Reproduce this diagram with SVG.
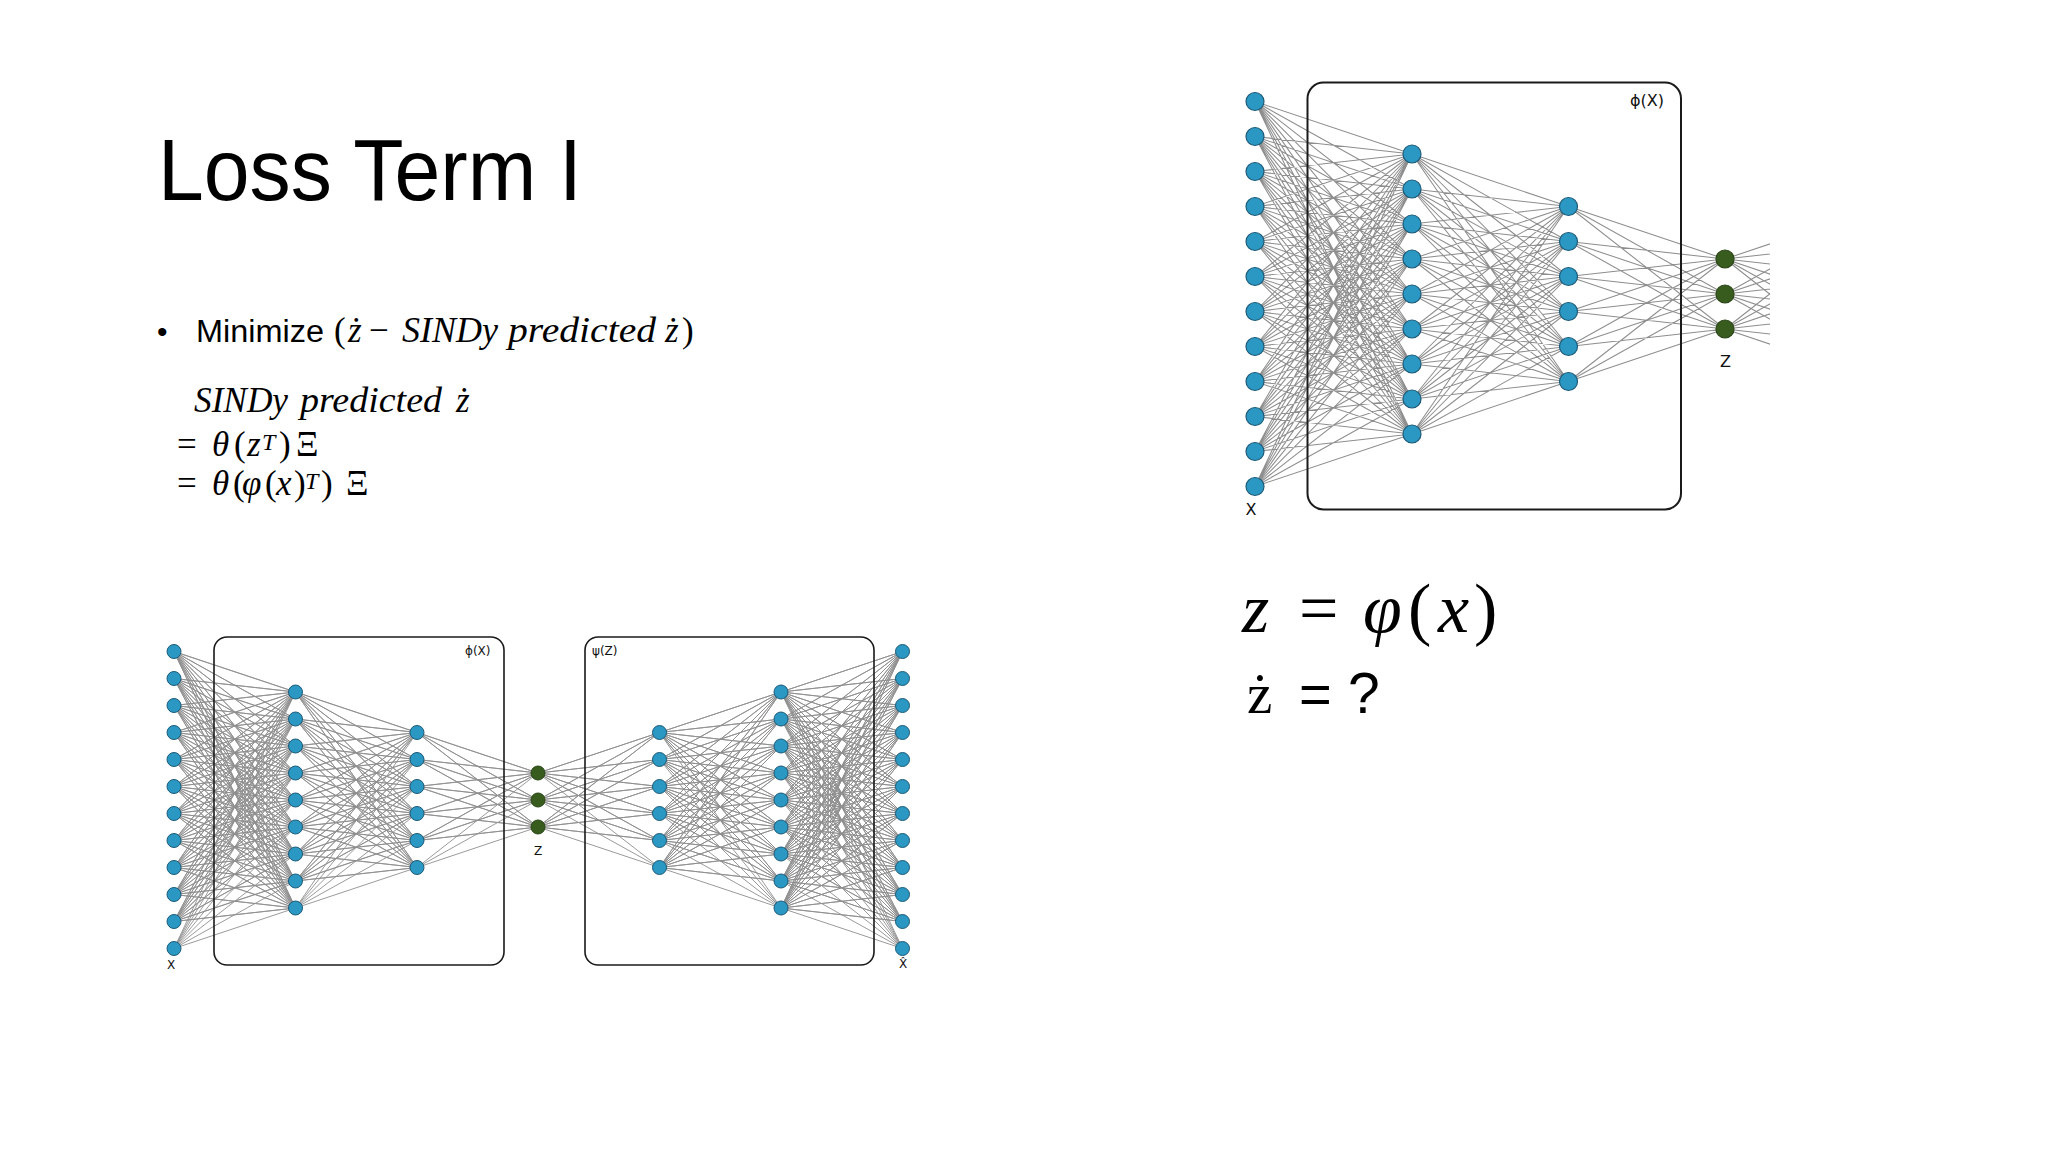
<svg xmlns="http://www.w3.org/2000/svg" width="2048" height="1152" viewBox="0 0 2048 1152">
<style>
.sans{font-family:"Liberation Sans","Noto Sans",sans-serif;fill:#000}
.lbl{font-family:"DejaVu Sans","Liberation Sans",sans-serif;fill:#111}
.m{font-family:"Liberation Serif","DejaVu Serif",serif;fill:#000}
.i{font-style:italic}
.ln{fill:none;stroke:#8e8e8e;stroke-linejoin:round}
.nb{fill:#2a98c2;stroke:#1d5a78}
.ng{fill:#385b1e;stroke:#2a4517}
.box{fill:none;stroke:#1a1a1a}
</style>
<defs>
<clipPath id="clipTR"><rect x="1690" y="150" width="80" height="260"/></clipPath>
</defs>
<rect width="2048" height="1152" fill="#fff"/>

<g id="title"><text class="sans" x="158" y="199.5" font-size="88" textLength="424" lengthAdjust="spacingAndGlyphs">Loss Term I</text></g>

<g id="bullet-text">
<text class="sans" x="157" y="341.5" font-size="30">•</text>
<text class="sans" x="196" y="341.5" font-size="31" textLength="128" lengthAdjust="spacingAndGlyphs">Minimize</text>
<text class="m" y="341.5" font-size="35"><tspan x="334">(</tspan><tspan class="i" x="348">ż</tspan><tspan x="369">−</tspan><tspan class="i" x="402" textLength="96" lengthAdjust="spacingAndGlyphs">SINDy</tspan><tspan class="i" x="508" textLength="148" lengthAdjust="spacingAndGlyphs">predicted</tspan><tspan class="i" x="665">ż</tspan><tspan x="682">)</tspan></text>
<text class="m i" y="412" font-size="35"><tspan x="194" textLength="94" lengthAdjust="spacingAndGlyphs">SINDy</tspan><tspan x="300" textLength="142" lengthAdjust="spacingAndGlyphs">predicted</tspan><tspan x="456">ż</tspan></text>
<text class="m" y="456" font-size="35"><tspan x="177">=</tspan><tspan class="i" x="212">θ</tspan><tspan x="234">(</tspan><tspan class="i" x="247">z</tspan><tspan class="i" x="262" y="450" font-size="24">T</tspan><tspan x="279" y="456">)</tspan><tspan x="296">Ξ</tspan></text>
<text class="m" y="495" font-size="35"><tspan x="177">=</tspan><tspan class="i" x="212">θ</tspan><tspan x="233">(</tspan><tspan class="i" x="242">φ</tspan><tspan x="265">(</tspan><tspan class="i" x="276">x</tspan><tspan x="294">)</tspan><tspan class="i" x="305" y="489" font-size="24">T</tspan><tspan x="321" y="495">)</tspan><tspan x="346">Ξ</tspan></text>
</g>

<g id="right-formula">
<text class="m" y="632" font-size="70"><tspan class="i" x="1242">z</tspan><tspan x="1299">=</tspan><tspan class="i" x="1363">φ</tspan><tspan x="1408">(</tspan><tspan class="i" x="1438">x</tspan><tspan x="1474">)</tspan></text>
<text y="713"><tspan class="m" x="1247" font-size="57">ż</tspan><tspan class="sans" x="1299" font-size="56">=</tspan><tspan class="sans" x="1348" font-size="57">?</tspan></text>
</g>

<g id="connectors">
<path class="ln" stroke-width="1.05" d="M1412 154L1255 101.5 1412 154 1255 136.5 1412 154 1255 171.5 1412 154 1255 206.5 1412 154 1255 241.5 1412 154 1255 276.5 1412 154 1255 311.5 1412 154 1255 346.5 1412 154 1255 381.5 1412 154 1255 416.5 1412 154 1255 451.5 1412 154 1255 486.5
M1412 189L1255 101.5 1412 189 1255 136.5 1412 189 1255 171.5 1412 189 1255 206.5 1412 189 1255 241.5 1412 189 1255 276.5 1412 189 1255 311.5 1412 189 1255 346.5 1412 189 1255 381.5 1412 189 1255 416.5 1412 189 1255 451.5 1412 189 1255 486.5
M1412 224L1255 101.5 1412 224 1255 136.5 1412 224 1255 171.5 1412 224 1255 206.5 1412 224 1255 241.5 1412 224 1255 276.5 1412 224 1255 311.5 1412 224 1255 346.5 1412 224 1255 381.5 1412 224 1255 416.5 1412 224 1255 451.5 1412 224 1255 486.5
M1412 259L1255 101.5 1412 259 1255 136.5 1412 259 1255 171.5 1412 259 1255 206.5 1412 259 1255 241.5 1412 259 1255 276.5 1412 259 1255 311.5 1412 259 1255 346.5 1412 259 1255 381.5 1412 259 1255 416.5 1412 259 1255 451.5 1412 259 1255 486.5
M1412 294L1255 101.5 1412 294 1255 136.5 1412 294 1255 171.5 1412 294 1255 206.5 1412 294 1255 241.5 1412 294 1255 276.5 1412 294 1255 311.5 1412 294 1255 346.5 1412 294 1255 381.5 1412 294 1255 416.5 1412 294 1255 451.5 1412 294 1255 486.5
M1412 329L1255 101.5 1412 329 1255 136.5 1412 329 1255 171.5 1412 329 1255 206.5 1412 329 1255 241.5 1412 329 1255 276.5 1412 329 1255 311.5 1412 329 1255 346.5 1412 329 1255 381.5 1412 329 1255 416.5 1412 329 1255 451.5 1412 329 1255 486.5
M1412 364L1255 101.5 1412 364 1255 136.5 1412 364 1255 171.5 1412 364 1255 206.5 1412 364 1255 241.5 1412 364 1255 276.5 1412 364 1255 311.5 1412 364 1255 346.5 1412 364 1255 381.5 1412 364 1255 416.5 1412 364 1255 451.5 1412 364 1255 486.5
M1412 399L1255 101.5 1412 399 1255 136.5 1412 399 1255 171.5 1412 399 1255 206.5 1412 399 1255 241.5 1412 399 1255 276.5 1412 399 1255 311.5 1412 399 1255 346.5 1412 399 1255 381.5 1412 399 1255 416.5 1412 399 1255 451.5 1412 399 1255 486.5
M1412 434L1255 101.5 1412 434 1255 136.5 1412 434 1255 171.5 1412 434 1255 206.5 1412 434 1255 241.5 1412 434 1255 276.5 1412 434 1255 311.5 1412 434 1255 346.5 1412 434 1255 381.5 1412 434 1255 416.5 1412 434 1255 451.5 1412 434 1255 486.5
M1568.5 206.5L1412 154 1568.5 206.5 1412 189 1568.5 206.5 1412 224 1568.5 206.5 1412 259 1568.5 206.5 1412 294 1568.5 206.5 1412 329 1568.5 206.5 1412 364 1568.5 206.5 1412 399 1568.5 206.5 1412 434
M1568.5 241.5L1412 154 1568.5 241.5 1412 189 1568.5 241.5 1412 224 1568.5 241.5 1412 259 1568.5 241.5 1412 294 1568.5 241.5 1412 329 1568.5 241.5 1412 364 1568.5 241.5 1412 399 1568.5 241.5 1412 434
M1568.5 276.5L1412 154 1568.5 276.5 1412 189 1568.5 276.5 1412 224 1568.5 276.5 1412 259 1568.5 276.5 1412 294 1568.5 276.5 1412 329 1568.5 276.5 1412 364 1568.5 276.5 1412 399 1568.5 276.5 1412 434
M1568.5 311.5L1412 154 1568.5 311.5 1412 189 1568.5 311.5 1412 224 1568.5 311.5 1412 259 1568.5 311.5 1412 294 1568.5 311.5 1412 329 1568.5 311.5 1412 364 1568.5 311.5 1412 399 1568.5 311.5 1412 434
M1568.5 346.5L1412 154 1568.5 346.5 1412 189 1568.5 346.5 1412 224 1568.5 346.5 1412 259 1568.5 346.5 1412 294 1568.5 346.5 1412 329 1568.5 346.5 1412 364 1568.5 346.5 1412 399 1568.5 346.5 1412 434
M1568.5 381.5L1412 154 1568.5 381.5 1412 189 1568.5 381.5 1412 224 1568.5 381.5 1412 259 1568.5 381.5 1412 294 1568.5 381.5 1412 329 1568.5 381.5 1412 364 1568.5 381.5 1412 399 1568.5 381.5 1412 434
M1725 259L1568.5 206.5 1725 259 1568.5 241.5 1725 259 1568.5 276.5 1725 259 1568.5 311.5 1725 259 1568.5 346.5 1725 259 1568.5 381.5
M1725 294L1568.5 206.5 1725 294 1568.5 241.5 1725 294 1568.5 276.5 1725 294 1568.5 311.5 1725 294 1568.5 346.5 1725 294 1568.5 381.5
M1725 329L1568.5 206.5 1725 329 1568.5 241.5 1725 329 1568.5 276.5 1725 329 1568.5 311.5 1725 329 1568.5 346.5 1725 329 1568.5 381.5"/>
<path class="ln" stroke-width="1.05" clip-path="url(#clipTR)" d="M1725 259L1881.5 206.5 1725 259 1881.5 241.5 1725 259 1881.5 276.5 1725 259 1881.5 311.5 1725 259 1881.5 346.5 1725 259 1881.5 381.5
M1725 294L1881.5 206.5 1725 294 1881.5 241.5 1725 294 1881.5 276.5 1725 294 1881.5 311.5 1725 294 1881.5 346.5 1725 294 1881.5 381.5
M1725 329L1881.5 206.5 1725 329 1881.5 241.5 1725 329 1881.5 276.5 1725 329 1881.5 311.5 1725 329 1881.5 346.5 1725 329 1881.5 381.5"/>
<path class="ln" stroke-width="0.9" d="M295.5 692L174 651.5 295.5 692 174 678.5 295.5 692 174 705.5 295.5 692 174 732.5 295.5 692 174 759.5 295.5 692 174 786.5 295.5 692 174 813.5 295.5 692 174 840.5 295.5 692 174 867.5 295.5 692 174 894.5 295.5 692 174 921.5 295.5 692 174 948.5
M295.5 719L174 651.5 295.5 719 174 678.5 295.5 719 174 705.5 295.5 719 174 732.5 295.5 719 174 759.5 295.5 719 174 786.5 295.5 719 174 813.5 295.5 719 174 840.5 295.5 719 174 867.5 295.5 719 174 894.5 295.5 719 174 921.5 295.5 719 174 948.5
M295.5 746L174 651.5 295.5 746 174 678.5 295.5 746 174 705.5 295.5 746 174 732.5 295.5 746 174 759.5 295.5 746 174 786.5 295.5 746 174 813.5 295.5 746 174 840.5 295.5 746 174 867.5 295.5 746 174 894.5 295.5 746 174 921.5 295.5 746 174 948.5
M295.5 773L174 651.5 295.5 773 174 678.5 295.5 773 174 705.5 295.5 773 174 732.5 295.5 773 174 759.5 295.5 773 174 786.5 295.5 773 174 813.5 295.5 773 174 840.5 295.5 773 174 867.5 295.5 773 174 894.5 295.5 773 174 921.5 295.5 773 174 948.5
M295.5 800L174 651.5 295.5 800 174 678.5 295.5 800 174 705.5 295.5 800 174 732.5 295.5 800 174 759.5 295.5 800 174 786.5 295.5 800 174 813.5 295.5 800 174 840.5 295.5 800 174 867.5 295.5 800 174 894.5 295.5 800 174 921.5 295.5 800 174 948.5
M295.5 827L174 651.5 295.5 827 174 678.5 295.5 827 174 705.5 295.5 827 174 732.5 295.5 827 174 759.5 295.5 827 174 786.5 295.5 827 174 813.5 295.5 827 174 840.5 295.5 827 174 867.5 295.5 827 174 894.5 295.5 827 174 921.5 295.5 827 174 948.5
M295.5 854L174 651.5 295.5 854 174 678.5 295.5 854 174 705.5 295.5 854 174 732.5 295.5 854 174 759.5 295.5 854 174 786.5 295.5 854 174 813.5 295.5 854 174 840.5 295.5 854 174 867.5 295.5 854 174 894.5 295.5 854 174 921.5 295.5 854 174 948.5
M295.5 881L174 651.5 295.5 881 174 678.5 295.5 881 174 705.5 295.5 881 174 732.5 295.5 881 174 759.5 295.5 881 174 786.5 295.5 881 174 813.5 295.5 881 174 840.5 295.5 881 174 867.5 295.5 881 174 894.5 295.5 881 174 921.5 295.5 881 174 948.5
M295.5 908L174 651.5 295.5 908 174 678.5 295.5 908 174 705.5 295.5 908 174 732.5 295.5 908 174 759.5 295.5 908 174 786.5 295.5 908 174 813.5 295.5 908 174 840.5 295.5 908 174 867.5 295.5 908 174 894.5 295.5 908 174 921.5 295.5 908 174 948.5
M417 732.5L295.5 692 417 732.5 295.5 719 417 732.5 295.5 746 417 732.5 295.5 773 417 732.5 295.5 800 417 732.5 295.5 827 417 732.5 295.5 854 417 732.5 295.5 881 417 732.5 295.5 908
M417 759.5L295.5 692 417 759.5 295.5 719 417 759.5 295.5 746 417 759.5 295.5 773 417 759.5 295.5 800 417 759.5 295.5 827 417 759.5 295.5 854 417 759.5 295.5 881 417 759.5 295.5 908
M417 786.5L295.5 692 417 786.5 295.5 719 417 786.5 295.5 746 417 786.5 295.5 773 417 786.5 295.5 800 417 786.5 295.5 827 417 786.5 295.5 854 417 786.5 295.5 881 417 786.5 295.5 908
M417 813.5L295.5 692 417 813.5 295.5 719 417 813.5 295.5 746 417 813.5 295.5 773 417 813.5 295.5 800 417 813.5 295.5 827 417 813.5 295.5 854 417 813.5 295.5 881 417 813.5 295.5 908
M417 840.5L295.5 692 417 840.5 295.5 719 417 840.5 295.5 746 417 840.5 295.5 773 417 840.5 295.5 800 417 840.5 295.5 827 417 840.5 295.5 854 417 840.5 295.5 881 417 840.5 295.5 908
M417 867.5L295.5 692 417 867.5 295.5 719 417 867.5 295.5 746 417 867.5 295.5 773 417 867.5 295.5 800 417 867.5 295.5 827 417 867.5 295.5 854 417 867.5 295.5 881 417 867.5 295.5 908
M538 773L417 732.5 538 773 417 759.5 538 773 417 786.5 538 773 417 813.5 538 773 417 840.5 538 773 417 867.5
M538 800L417 732.5 538 800 417 759.5 538 800 417 786.5 538 800 417 813.5 538 800 417 840.5 538 800 417 867.5
M538 827L417 732.5 538 827 417 759.5 538 827 417 786.5 538 827 417 813.5 538 827 417 840.5 538 827 417 867.5
M538 773L659.5 732.5 538 773 659.5 759.5 538 773 659.5 786.5 538 773 659.5 813.5 538 773 659.5 840.5 538 773 659.5 867.5
M538 800L659.5 732.5 538 800 659.5 759.5 538 800 659.5 786.5 538 800 659.5 813.5 538 800 659.5 840.5 538 800 659.5 867.5
M538 827L659.5 732.5 538 827 659.5 759.5 538 827 659.5 786.5 538 827 659.5 813.5 538 827 659.5 840.5 538 827 659.5 867.5
M659.5 732.5L781 692 659.5 732.5 781 719 659.5 732.5 781 746 659.5 732.5 781 773 659.5 732.5 781 800 659.5 732.5 781 827 659.5 732.5 781 854 659.5 732.5 781 881 659.5 732.5 781 908
M659.5 759.5L781 692 659.5 759.5 781 719 659.5 759.5 781 746 659.5 759.5 781 773 659.5 759.5 781 800 659.5 759.5 781 827 659.5 759.5 781 854 659.5 759.5 781 881 659.5 759.5 781 908
M659.5 786.5L781 692 659.5 786.5 781 719 659.5 786.5 781 746 659.5 786.5 781 773 659.5 786.5 781 800 659.5 786.5 781 827 659.5 786.5 781 854 659.5 786.5 781 881 659.5 786.5 781 908
M659.5 813.5L781 692 659.5 813.5 781 719 659.5 813.5 781 746 659.5 813.5 781 773 659.5 813.5 781 800 659.5 813.5 781 827 659.5 813.5 781 854 659.5 813.5 781 881 659.5 813.5 781 908
M659.5 840.5L781 692 659.5 840.5 781 719 659.5 840.5 781 746 659.5 840.5 781 773 659.5 840.5 781 800 659.5 840.5 781 827 659.5 840.5 781 854 659.5 840.5 781 881 659.5 840.5 781 908
M659.5 867.5L781 692 659.5 867.5 781 719 659.5 867.5 781 746 659.5 867.5 781 773 659.5 867.5 781 800 659.5 867.5 781 827 659.5 867.5 781 854 659.5 867.5 781 881 659.5 867.5 781 908
M781 692L902.5 651.5 781 692 902.5 678.5 781 692 902.5 705.5 781 692 902.5 732.5 781 692 902.5 759.5 781 692 902.5 786.5 781 692 902.5 813.5 781 692 902.5 840.5 781 692 902.5 867.5 781 692 902.5 894.5 781 692 902.5 921.5 781 692 902.5 948.5
M781 719L902.5 651.5 781 719 902.5 678.5 781 719 902.5 705.5 781 719 902.5 732.5 781 719 902.5 759.5 781 719 902.5 786.5 781 719 902.5 813.5 781 719 902.5 840.5 781 719 902.5 867.5 781 719 902.5 894.5 781 719 902.5 921.5 781 719 902.5 948.5
M781 746L902.5 651.5 781 746 902.5 678.5 781 746 902.5 705.5 781 746 902.5 732.5 781 746 902.5 759.5 781 746 902.5 786.5 781 746 902.5 813.5 781 746 902.5 840.5 781 746 902.5 867.5 781 746 902.5 894.5 781 746 902.5 921.5 781 746 902.5 948.5
M781 773L902.5 651.5 781 773 902.5 678.5 781 773 902.5 705.5 781 773 902.5 732.5 781 773 902.5 759.5 781 773 902.5 786.5 781 773 902.5 813.5 781 773 902.5 840.5 781 773 902.5 867.5 781 773 902.5 894.5 781 773 902.5 921.5 781 773 902.5 948.5
M781 800L902.5 651.5 781 800 902.5 678.5 781 800 902.5 705.5 781 800 902.5 732.5 781 800 902.5 759.5 781 800 902.5 786.5 781 800 902.5 813.5 781 800 902.5 840.5 781 800 902.5 867.5 781 800 902.5 894.5 781 800 902.5 921.5 781 800 902.5 948.5
M781 827L902.5 651.5 781 827 902.5 678.5 781 827 902.5 705.5 781 827 902.5 732.5 781 827 902.5 759.5 781 827 902.5 786.5 781 827 902.5 813.5 781 827 902.5 840.5 781 827 902.5 867.5 781 827 902.5 894.5 781 827 902.5 921.5 781 827 902.5 948.5
M781 854L902.5 651.5 781 854 902.5 678.5 781 854 902.5 705.5 781 854 902.5 732.5 781 854 902.5 759.5 781 854 902.5 786.5 781 854 902.5 813.5 781 854 902.5 840.5 781 854 902.5 867.5 781 854 902.5 894.5 781 854 902.5 921.5 781 854 902.5 948.5
M781 881L902.5 651.5 781 881 902.5 678.5 781 881 902.5 705.5 781 881 902.5 732.5 781 881 902.5 759.5 781 881 902.5 786.5 781 881 902.5 813.5 781 881 902.5 840.5 781 881 902.5 867.5 781 881 902.5 894.5 781 881 902.5 921.5 781 881 902.5 948.5
M781 908L902.5 651.5 781 908 902.5 678.5 781 908 902.5 705.5 781 908 902.5 732.5 781 908 902.5 759.5 781 908 902.5 786.5 781 908 902.5 813.5 781 908 902.5 840.5 781 908 902.5 867.5 781 908 902.5 894.5 781 908 902.5 921.5 781 908 902.5 948.5"/>
</g>

<g id="tr-encoder-box">
<rect class="box" x="1307.5" y="82.5" width="373.5" height="427" rx="16" stroke-width="2"/>
<text class="lbl" x="1630" y="106" font-size="16">ϕ(X)</text>
</g>
<g id="bl-encoder-box">
<rect class="box" x="214" y="637" width="290" height="328" rx="13" stroke-width="1.6"/>
<text class="lbl" x="465" y="655" font-size="12">ϕ(X)</text>
</g>
<g id="bl-decoder-box">
<rect class="box" x="585" y="637" width="289" height="328" rx="13" stroke-width="1.6"/>
<text class="lbl" x="592" y="655" font-size="12">ψ(Z)</text>
</g>

<g id="tr-input" class="nb" stroke-width="1.2">
<circle id="tr-x0" cx="1255" cy="101.5" r="9"/><circle id="tr-x1" cx="1255" cy="136.5" r="9"/><circle id="tr-x2" cx="1255" cy="171.5" r="9"/><circle id="tr-x3" cx="1255" cy="206.5" r="9"/><circle id="tr-x4" cx="1255" cy="241.5" r="9"/><circle id="tr-x5" cx="1255" cy="276.5" r="9"/><circle id="tr-x6" cx="1255" cy="311.5" r="9"/><circle id="tr-x7" cx="1255" cy="346.5" r="9"/><circle id="tr-x8" cx="1255" cy="381.5" r="9"/><circle id="tr-x9" cx="1255" cy="416.5" r="9"/><circle id="tr-x10" cx="1255" cy="451.5" r="9"/><circle id="tr-x11" cx="1255" cy="486.5" r="9"/>
</g>
<g id="tr-hidden1" class="nb" stroke-width="1.2">
<circle id="tr-h1-0" cx="1412" cy="154" r="9"/><circle id="tr-h1-1" cx="1412" cy="189" r="9"/><circle id="tr-h1-2" cx="1412" cy="224" r="9"/><circle id="tr-h1-3" cx="1412" cy="259" r="9"/><circle id="tr-h1-4" cx="1412" cy="294" r="9"/><circle id="tr-h1-5" cx="1412" cy="329" r="9"/><circle id="tr-h1-6" cx="1412" cy="364" r="9"/><circle id="tr-h1-7" cx="1412" cy="399" r="9"/><circle id="tr-h1-8" cx="1412" cy="434" r="9"/>
</g>
<g id="tr-hidden2" class="nb" stroke-width="1.2">
<circle id="tr-h2-0" cx="1568.5" cy="206.5" r="9"/><circle id="tr-h2-1" cx="1568.5" cy="241.5" r="9"/><circle id="tr-h2-2" cx="1568.5" cy="276.5" r="9"/><circle id="tr-h2-3" cx="1568.5" cy="311.5" r="9"/><circle id="tr-h2-4" cx="1568.5" cy="346.5" r="9"/><circle id="tr-h2-5" cx="1568.5" cy="381.5" r="9"/>
</g>
<g id="tr-latent" class="ng" stroke-width="1.2">
<circle id="tr-z0" cx="1725" cy="259" r="9"/><circle id="tr-z1" cx="1725" cy="294" r="9"/><circle id="tr-z2" cx="1725" cy="329" r="9"/>
</g>
<g id="tr-labels">
<text class="lbl" x="1251" y="515" font-size="16" text-anchor="middle">X</text>
<text class="lbl" x="1725.5" y="367" font-size="16" text-anchor="middle">Z</text>
</g>

<g id="bl-input" class="nb" stroke-width="1">
<circle id="bl-x0" cx="174" cy="651.5" r="7"/><circle id="bl-x1" cx="174" cy="678.5" r="7"/><circle id="bl-x2" cx="174" cy="705.5" r="7"/><circle id="bl-x3" cx="174" cy="732.5" r="7"/><circle id="bl-x4" cx="174" cy="759.5" r="7"/><circle id="bl-x5" cx="174" cy="786.5" r="7"/><circle id="bl-x6" cx="174" cy="813.5" r="7"/><circle id="bl-x7" cx="174" cy="840.5" r="7"/><circle id="bl-x8" cx="174" cy="867.5" r="7"/><circle id="bl-x9" cx="174" cy="894.5" r="7"/><circle id="bl-x10" cx="174" cy="921.5" r="7"/><circle id="bl-x11" cx="174" cy="948.5" r="7"/>
</g>
<g id="bl-enc-hidden1" class="nb" stroke-width="1">
<circle id="bl-e1-0" cx="295.5" cy="692" r="7"/><circle id="bl-e1-1" cx="295.5" cy="719" r="7"/><circle id="bl-e1-2" cx="295.5" cy="746" r="7"/><circle id="bl-e1-3" cx="295.5" cy="773" r="7"/><circle id="bl-e1-4" cx="295.5" cy="800" r="7"/><circle id="bl-e1-5" cx="295.5" cy="827" r="7"/><circle id="bl-e1-6" cx="295.5" cy="854" r="7"/><circle id="bl-e1-7" cx="295.5" cy="881" r="7"/><circle id="bl-e1-8" cx="295.5" cy="908" r="7"/>
</g>
<g id="bl-enc-hidden2" class="nb" stroke-width="1">
<circle id="bl-e2-0" cx="417" cy="732.5" r="7"/><circle id="bl-e2-1" cx="417" cy="759.5" r="7"/><circle id="bl-e2-2" cx="417" cy="786.5" r="7"/><circle id="bl-e2-3" cx="417" cy="813.5" r="7"/><circle id="bl-e2-4" cx="417" cy="840.5" r="7"/><circle id="bl-e2-5" cx="417" cy="867.5" r="7"/>
</g>
<g id="bl-latent" class="ng" stroke-width="1">
<circle id="bl-z0" cx="538" cy="773" r="7"/><circle id="bl-z1" cx="538" cy="800" r="7"/><circle id="bl-z2" cx="538" cy="827" r="7"/>
</g>
<g id="bl-dec-hidden1" class="nb" stroke-width="1">
<circle id="bl-d1-0" cx="659.5" cy="732.5" r="7"/><circle id="bl-d1-1" cx="659.5" cy="759.5" r="7"/><circle id="bl-d1-2" cx="659.5" cy="786.5" r="7"/><circle id="bl-d1-3" cx="659.5" cy="813.5" r="7"/><circle id="bl-d1-4" cx="659.5" cy="840.5" r="7"/><circle id="bl-d1-5" cx="659.5" cy="867.5" r="7"/>
</g>
<g id="bl-dec-hidden2" class="nb" stroke-width="1">
<circle id="bl-d2-0" cx="781" cy="692" r="7"/><circle id="bl-d2-1" cx="781" cy="719" r="7"/><circle id="bl-d2-2" cx="781" cy="746" r="7"/><circle id="bl-d2-3" cx="781" cy="773" r="7"/><circle id="bl-d2-4" cx="781" cy="800" r="7"/><circle id="bl-d2-5" cx="781" cy="827" r="7"/><circle id="bl-d2-6" cx="781" cy="854" r="7"/><circle id="bl-d2-7" cx="781" cy="881" r="7"/><circle id="bl-d2-8" cx="781" cy="908" r="7"/>
</g>
<g id="bl-output" class="nb" stroke-width="1">
<circle id="bl-o0" cx="902.5" cy="651.5" r="7"/><circle id="bl-o1" cx="902.5" cy="678.5" r="7"/><circle id="bl-o2" cx="902.5" cy="705.5" r="7"/><circle id="bl-o3" cx="902.5" cy="732.5" r="7"/><circle id="bl-o4" cx="902.5" cy="759.5" r="7"/><circle id="bl-o5" cx="902.5" cy="786.5" r="7"/><circle id="bl-o6" cx="902.5" cy="813.5" r="7"/><circle id="bl-o7" cx="902.5" cy="840.5" r="7"/><circle id="bl-o8" cx="902.5" cy="867.5" r="7"/><circle id="bl-o9" cx="902.5" cy="894.5" r="7"/><circle id="bl-o10" cx="902.5" cy="921.5" r="7"/><circle id="bl-o11" cx="902.5" cy="948.5" r="7"/>
</g>
<g id="bl-labels">
<text class="lbl" x="171" y="969" font-size="12" text-anchor="middle">X</text>
<text class="lbl" x="538" y="855" font-size="12" text-anchor="middle">Z</text>
<text class="lbl" x="903" y="968" font-size="12" text-anchor="middle">X̂</text>
</g>
</svg>
